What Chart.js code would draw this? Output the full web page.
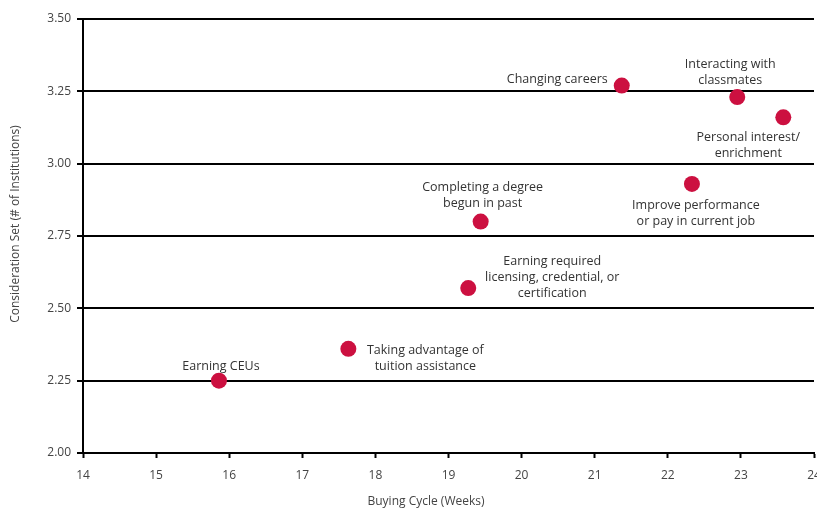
<!DOCTYPE html>
<html>
<head>
<meta charset="utf-8">
<script src="https://cdn.jsdelivr.net/npm/chart.js@4"></script>
<style>
  html, body { margin: 0; padding: 0; background: #fff; overflow: hidden; }
  canvas { display: block; }
</style>
</head>
<body>
<canvas id="c" width="840" height="508"></canvas>
<script>
// Reasons for enrolling: buying cycle vs. number of institutions considered
const reasons = [
  "Earning CEUs",
  "Taking advantage of\ntuition assistance",
  "Earning required\nlicensing, credential, or\ncertification",
  "Completing a degree\nbegun in past",
  "Changing careers",
  "Interacting with\nclassmates",
  "Personal interest/\nenrichment",
  "Improve performance\nor pay in current job"
];
const buyingCycleWeeks = [15.86, 17.63, 19.27, 19.44, 21.37, 22.95, 23.58, 22.33];
const considerationSet = [2.25, 2.36, 2.57, 2.80, 3.27, 3.23, 3.16, 2.93];
const xTicks = [14, 15, 16, 17, 18, 19, 20, 21, 22, 23, 24];
const yTicks = [2.00, 2.25, 2.50, 2.75, 3.00, 3.25, 3.50];

// Where each reason's caption sits relative to its marker
const captionLayout = [
  { dx: 2,   dy: -14, align: "center" },
  { dx: 77,  dy: 2,   align: "center" },
  { dx: 84,  dy: -27, align: "center" },
  { dx: 2,   dy: -34, align: "center" },
  { dx: -14, dy: -6,  align: "right"  },
  { dx: -7,  dy: -33, align: "center" },
  { dx: -35, dy: 20,  align: "center" },
  { dx: 4,   dy: 22,  align: "center" }
];

const FONT = "'Open Sans', Lato, sans-serif";

const captions = {
  id: "captions",
  afterDatasetsDraw(chart) {
    const ctx = chart.ctx;
    const meta = chart.getDatasetMeta(0);
    ctx.save();
    ctx.font = "12.5px " + FONT;
    ctx.fillStyle = "#333";
    ctx.textBaseline = "middle";
    meta.data.forEach((pt, i) => {
      const lay = captionLayout[i];
      ctx.textAlign = lay.align;
      reasons[i].split("\n").forEach((line, k) => {
        ctx.fillText(line, pt.x + lay.dx, pt.y + lay.dy + k * 16);
      });
    });
    ctx.restore();
  }
};

const axisTitles = {
  id: "axisTitles",
  afterDraw(chart) {
    const ctx = chart.ctx;
    ctx.save();
    ctx.font = "12px " + FONT;
    ctx.fillStyle = "#444";
    ctx.textAlign = "center";
    ctx.textBaseline = "middle";
    ctx.fillText("Buying Cycle (Weeks)", 426, 502);
    ctx.translate(16, 224);
    ctx.rotate(-Math.PI / 2);
    ctx.fillText("Consideration Set (# of Institutions)", 0, 0);
    ctx.restore();
  }
};

new Chart(document.getElementById("c"), {
  type: "scatter",
  data: {
    datasets: [{
      data: buyingCycleWeeks.map((x, i) => ({ x: x, y: considerationSet[i] })),
      backgroundColor: "#cc1040",
      borderColor: "#cc1040",
      pointRadius: 8,
      pointHoverRadius: 8,
      borderWidth: 0
    }]
  },
  options: {
    responsive: false,
    animation: false,
    devicePixelRatio: 1,
    layout: { padding: { top: 19, right: 26, bottom: 0, left: 0 } },
    plugins: { legend: { display: false }, tooltip: { enabled: false } },
    scales: {
      x: {
        type: "linear",
        min: 14, max: 24,
        afterBuildTicks: s => { s.ticks = xTicks.map(v => ({ value: v })); },
        afterFit: s => { s.height = 55; },
        ticks: { color: "#444", font: { size: 12, family: FONT }, padding: 10 },
        grid: { drawOnChartArea: false, drawTicks: true, tickLength: 5, tickColor: "#000", tickWidth: 2 },
        border: { display: true, color: "#000", width: 2 }
      },
      y: {
        type: "linear",
        min: 2, max: 3.5,
        afterBuildTicks: s => { s.ticks = yTicks.map(v => ({ value: v })); },
        afterFit: s => { s.width = 83; },
        ticks: { color: "#444", font: { size: 12, family: FONT }, padding: 6, callback: v => v.toFixed(2) },
        grid: { color: "#000", lineWidth: 2, drawTicks: true, tickLength: 6, tickColor: "#000" },
        border: { display: true, color: "#000", width: 2 }
      }
    }
  },
  plugins: [captions, axisTitles]
});
</script>
</body>
</html>
